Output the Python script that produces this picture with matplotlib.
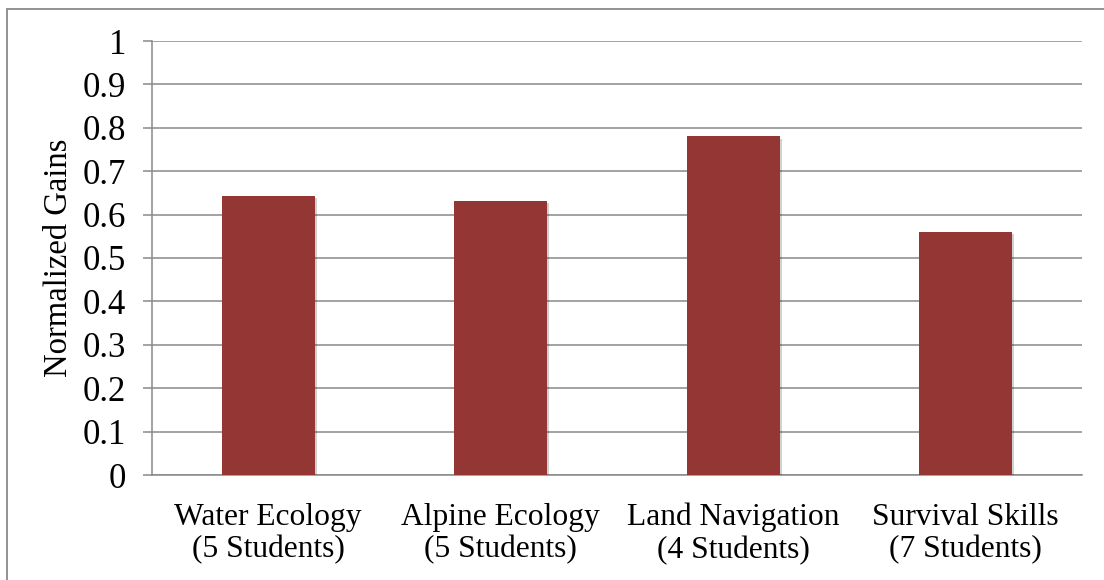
import matplotlib
matplotlib.use("Agg")
import matplotlib.pyplot as plt
import matplotlib.patheffects as pe
from matplotlib.patches import Rectangle
import numpy as np

courses = ["Water Ecology\n(5 Students)", "Alpine Ecology\n(5 Students)",
           "Land Navigation\n(4 Students)", "Survival Skills\n(7 Students)"]
gains = [0.643, 0.632, 0.780, 0.560]
y_ticks = [0, 0.1, 0.2, 0.3, 0.4, 0.5, 0.6, 0.7, 0.8, 0.9, 1]
y_tick_labels = ["0", "0.1", "0.2", "0.3", "0.4", "0.5", "0.6", "0.7", "0.8", "0.9", "1"]

plt.rcParams['font.family'] = ['Liberation Serif', 'DejaVu Serif']
grey = '#898989'
bar_colour = '#943634'

W, H = 1104, 580
fig = plt.figure(figsize=(W / 100, H / 100), dpi=100)
ax = fig.add_axes([152 / W, 1 - 475 / H, (1082 - 152) / W, (475 - 41) / H])

x = np.arange(len(courses))
bars = ax.bar(x, gains, width=0.4, color=bar_colour, zorder=3)
for b in bars:
    b.set_path_effects([pe.SimplePatchShadow(offset=(1.5, -1.5), shadow_rgbFace='#000000', alpha=0.18),
                        pe.Normal()])

ax.set_xlim(-0.5, len(courses) - 0.5)
ax.set_ylim(0, 1)
ax.set_yticks(y_ticks)
ax.set_yticklabels(y_tick_labels)
ax.set_xticks(x)
ax.set_xticklabels(courses, linespacing=1.15)
ax.grid(axis='y', color=grey, linewidth=1.1, zorder=0)
ax.set_axisbelow(True)

ax.tick_params(axis='y', length=6.5, width=1.1, color=grey, pad=12, labelsize=25)
ax.tick_params(axis='x', length=0, pad=20, labelsize=22.7)
for side in ['top', 'right']:
    ax.spines[side].set_visible(False)
for side in ['left', 'bottom']:
    ax.spines[side].set_color(grey)
    ax.spines[side].set_linewidth(1.1)

ax.set_ylabel("Normalized Gains", fontsize=23.5, labelpad=6)

# chart frame
fig.patches.append(Rectangle((7 / W, -0.1), 1.2, 1 - 9 / H + 0.1, transform=fig.transFigure,
                             fill=False, edgecolor=grey, linewidth=1.3))

fig.savefig("out.png", dpi=100)
